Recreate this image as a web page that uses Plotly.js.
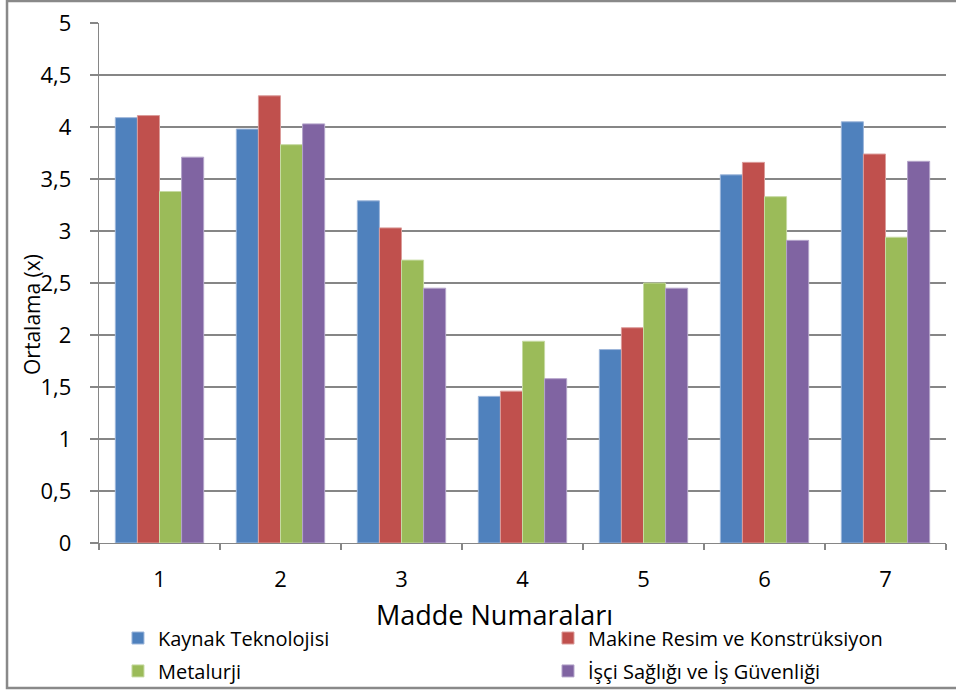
<!DOCTYPE html>
<html>
<head>
<meta charset="utf-8">
<script src="https://cdn.plot.ly/plotly-3.0.1.min.js"></script>
<style>html,body{margin:0;padding:0;background:#fff;}#chart{width:956px;height:693px;}</style>
</head>
<body>
<div id="chart"></div>
<script>
const categories = ['1', '2', '3', '4', '5', '6', '7'];
const seriesNames = ['Kaynak Teknolojisi', 'Makine Resim ve Konstrüksiyon', 'Metalurji', 'İşçi Sağlığı ve İş Güvenliği'];
const kaynak = [4.09, 3.98, 3.29, 1.41, 1.86, 3.54, 4.05];
const makine = [4.11, 4.30, 3.03, 1.46, 2.07, 3.66, 3.74];
const metalurji = [3.38, 3.83, 2.72, 1.94, 2.50, 3.33, 2.94];
const isci = [3.71, 4.03, 2.45, 1.58, 2.45, 2.91, 3.67];
const yTickVals = [0, 0.5, 1, 1.5, 2, 2.5, 3, 3.5, 4, 4.5, 5];
const yTickText = ['0', '0,5', '1', '1,5', '2', '2,5', '3', '3,5', '4', '4,5', '5'];
const xTitle = 'Madde Numaraları';
const yTitle = 'Ortalama (x)';

const colors = ['#4F81BD', '#C0504D', '#9BBB59', '#8064A2'];
const edges = ['#9DB6DA', '#DB9C9A', '#C6DAA2', '#B4A4CA'];
const allSeries = [kaynak, makine, metalurji, isci];
const legendIds = ['legend', 'legend2', 'legend3', 'legend4'];
const legendX = [0.0224, 0.5301, 0.0224, 0.5301];
const legendY = [-0.1827, -0.1827, -0.246, -0.246];
const FONT = '"Open Sans", "DejaVu Sans", sans-serif';

const traces = allSeries.map((vals, i) => ({
  type: 'bar',
  name: seriesNames[i],
  x: categories,
  y: vals,
  legend: legendIds[i],
  marker: {color: colors[i], line: {color: edges[i], width: 1}},
  hoverinfo: 'x+y+name'
}));

const layout = {
  width: 956, height: 693,
  margin: {l: 99, r: 10, t: 23, b: 150, autoexpand: false},
  paper_bgcolor: '#fff',
  plot_bgcolor: '#fff',
  font: {family: FONT, color: '#000'},
  barmode: 'group',
  bargap: 0.27,
  bargroupgap: 0,
  showlegend: true,
  xaxis: {
    type: 'category',
    showline: true, linecolor: '#868686', linewidth: 1.3,
    ticks: 'outside', tickson: 'boundaries', ticklen: 6, tickcolor: '#868686', tickwidth: 1.3,
    tickfont: {family: FONT, size: 22, color: '#000'},
    ticklabelstandoff: 16,
    showgrid: false, zeroline: false,
    fixedrange: true
  },
  yaxis: {
    range: [0, 5],
    tickmode: 'array', tickvals: yTickVals, ticktext: yTickText,
    showline: true, linecolor: '#868686', linewidth: 1.3,
    ticks: 'outside', ticklen: 8, tickcolor: '#868686', tickwidth: 1.3,
    showgrid: true, gridcolor: '#868686', gridwidth: 1.3,
    zeroline: false,
    tickfont: {family: FONT, size: 22, color: '#000'},
    ticklabelstandoff: 14,
    fixedrange: true
  },
  annotations: [
    {text: xTitle, xref: 'paper', yref: 'paper', x: 0.4664, y: -0.138, xanchor: 'center', yanchor: 'middle',
     showarrow: false, font: {family: FONT, size: 27, color: '#000'}},
    {text: yTitle, xref: 'paper', yref: 'paper', x: -0.0791, y: 0.4385, xanchor: 'center', yanchor: 'middle',
     textangle: -90, showarrow: false, font: {family: FONT, size: 21, color: '#000'}}
  ],
  shapes: [
    {type: 'rect', xref: 'paper', yref: 'paper', x0: -0.1086, x1: 1.03, y0: -0.2788, y1: 1.0423,
     line: {color: '#898989', width: 2.5}, fillcolor: 'rgba(0,0,0,0)', layer: 'below'}
  ]
};

legendIds.forEach((id, i) => {
  layout[id] = {
    orientation: 'h',
    x: legendX[i], xanchor: 'left',
    y: legendY[i], yanchor: 'middle',
    font: {family: FONT, size: 20, color: '#000'},
    bgcolor: 'rgba(0,0,0,0)'
  };
});

Plotly.newPlot('chart', traces, layout, {displayModeBar: false, staticPlot: true});
</script>
</body>
</html>
